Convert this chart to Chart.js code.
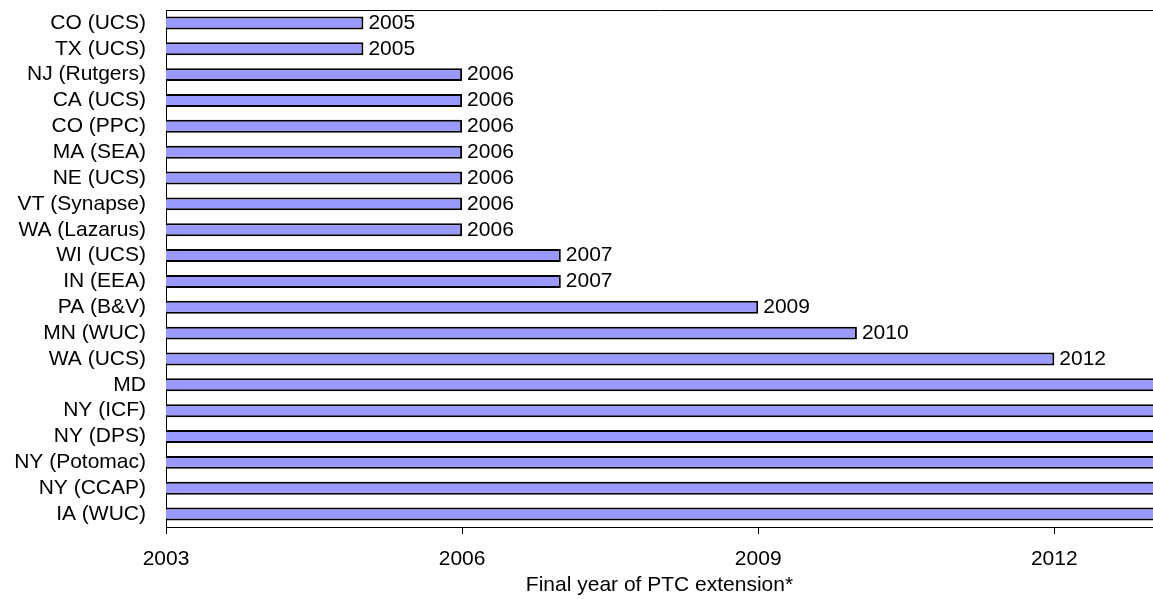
<!DOCTYPE html>
<html>
<head>
<meta charset="utf-8">
<script src="https://cdn.jsdelivr.net/npm/chart.js@4.4.0/dist/chart.umd.min.js"></script>
<style>
  html, body { margin: 0; padding: 0; background: #fff; }
  #wrap { width: 1153px; height: 599px; position: relative; }
</style>
</head>
<body>
<div id="wrap"><canvas id="ptcChart"></canvas></div>
<script>
// ==================== Data ====================
const studies = [
    'CO (UCS)', 'TX (UCS)', 'NJ (Rutgers)', 'CA (UCS)', 'CO (PPC)',
    'MA (SEA)', 'NE (UCS)', 'VT (Synapse)', 'WA (Lazarus)', 'WI (UCS)',
    'IN (EEA)', 'PA (B&V)', 'MN (WUC)', 'WA (UCS)', 'MD',
    'NY (ICF)', 'NY (DPS)', 'NY (Potomac)', 'NY (CCAP)', 'IA (WUC)'
];
// last six run past the right edge of the axis
const finalYears = [
    2005, 2005, 2006, 2006, 2006,
    2006, 2006, 2006, 2006, 2007,
    2007, 2009, 2010, 2012, 2014,
    2014, 2014, 2014, 2014, 2014
];
const yearTicks = [2003, 2006, 2009, 2012];
const axisMin = 2003;
const axisMax = 2013;

const FONT = 'Liberation Sans, Arial, sans-serif';
const FONT_SIZE = 21;

// ==================== Plugins ====================
// year labels at the end of each bar (only if the bar end is visible)
const barLabels = {
    id: 'barLabels',
    afterDatasetsDraw(chart) {
        const ctx = chart.ctx;
        const meta = chart.getDatasetMeta(0);
        ctx.save();
        ctx.font = FONT_SIZE + 'px ' + FONT;
        ctx.fillStyle = '#000';
        ctx.textAlign = 'left';
        ctx.textBaseline = 'middle';
        meta.data.forEach((bar, i) => {
            const v = finalYears[i];
            if (v >= axisMax) return;
            ctx.fillText(String(v), bar.x + 5, bar.y);
        });
        ctx.restore();
    }
};

// thin frame line across the top of the plot
const topLine = {
    id: 'topLine',
    afterDraw(chart) {
        const a = chart.chartArea;
        const ctx = chart.ctx;
        ctx.save();
        ctx.strokeStyle = '#000';
        ctx.lineWidth = 1;
        ctx.beginPath();
        ctx.moveTo(a.left, a.top + 0.5);
        ctx.lineTo(a.right, a.top + 0.5);
        ctx.stroke();
        ctx.restore();
    }
};

// ==================== Chart ====================
const ctx = document.getElementById('ptcChart').getContext('2d');
new Chart(ctx, {
    type: 'bar',
    data: {
        labels: studies,
        datasets: [{
            data: finalYears,
            backgroundColor: '#9999FF',
            borderColor: '#000',
            borderWidth: 2,
            borderSkipped: 'start',
            categoryPercentage: 1,
            barPercentage: 0.5
        }]
    },
    options: {
        indexAxis: 'y',
        responsive: true,
        maintainAspectRatio: false,
        animation: false,
        layout: { padding: { top: 10, right: 0, left: 0, bottom: 0 } },
        plugins: {
            legend: { display: false },
            tooltip: { enabled: false }
        },
        scales: {
            x: {
                min: axisMin,
                max: axisMax,
                afterBuildTicks: scale => {
                    scale.ticks = yearTicks.map(v => ({ value: v }));
                },
                afterFit: scale => {
                    scale.height = 72;
                    scale.paddingLeft = 0;
                    scale.paddingRight = 0;
                },
                grid: {
                    drawOnChartArea: false,
                    drawTicks: true,
                    tickLength: 7,
                    tickColor: '#000'
                },
                border: { display: true, color: '#000', width: 1 },
                ticks: {
                    color: '#000',
                    padding: 13,
                    maxRotation: 0,
                    font: { family: FONT, size: FONT_SIZE },
                    callback: v => String(v)
                },
                title: {
                    display: true,
                    text: 'Final year of PTC extension*',
                    color: '#000',
                    padding: { top: 0, bottom: 1 },
                    font: { family: FONT, size: FONT_SIZE }
                }
            },
            y: {
                afterFit: scale => {
                    scale.width = 166;
                    scale.paddingTop = 0;
                    scale.paddingBottom = 0;
                },
                grid: { display: false, drawTicks: false },
                border: { display: true, color: '#000', width: 1 },
                ticks: {
                    color: '#000',
                    padding: 20,
                    autoSkip: false,
                    font: { family: FONT, size: FONT_SIZE }
                }
            }
        }
    },
    plugins: [barLabels, topLine]
});
</script>
</body>
</html>
